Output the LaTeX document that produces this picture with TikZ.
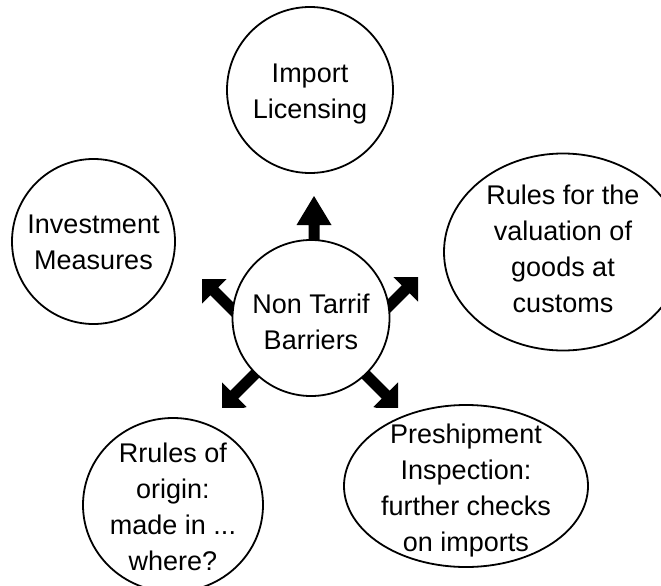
\documentclass[tikz,border=0pt]{standalone}
\usepackage{fontspec}
\setmainfont{Liberation Sans}
\usetikzlibrary{shapes.geometric}

\tikzset{
  bubble/.style={draw,ellipse,line width=1.8pt,fill=white,inner sep=0pt},
  bubbletext/.style={align=center,inner sep=0pt,font=\fontsize{27}{36}\selectfont},
}

\begin{document}
\begin{tikzpicture}[x=1pt,y=-1pt]
  \useasboundingbox (0,0) rectangle (661,586);
  % block arrows (tip x/y, angle, clip box)
  \foreach \tx/\ty/\ang/\xa/\ya/\xb/\yb in {314/196/0/280/190/350/260,
      193.8/270.8/45/202/279/311/360, 426.2/268.8/-45/300/277/418/360,
      213.8/415.2/135/222/280/311/407, 406.2/415.2/-135/311/280/398/407}{
    \begin{scope}
      \clip (\xa,\ya) rectangle (\xb,\yb);
      \fill[shift={(\tx,\ty)},rotate=\ang] (0,0) -- (17.5,29) -- (5.5,29) -- (5.5,70)
        -- (-5.5,70) -- (-5.5,29) -- (-17.5,29) -- cycle;
    \end{scope}
  }
  \node[bubble,minimum width=157pt,minimum height=156pt,
    label={[bubbletext,yshift=-4pt]center:{Non Tarrif\\Barriers}}] (ntb) at (311,318) {};
  \node[bubble,minimum width=166pt,minimum height=166pt,
    label={[bubbletext,yshift=-4pt]center:{Import\\Licensing}}] (imp) at (310,90) {};
  \node[bubble,minimum width=163pt,minimum height=165pt,
    label={[bubbletext,yshift=-1pt]center:{Investment\\Measures}}] (inv) at (93.5,241.5) {};
  \node[bubble,minimum width=238pt,minimum height=197pt,
    label={[bubbletext,yshift=3pt]center:{Rules for the\\valuation of\\goods at\\customs}}] (val) at (563,252) {};
  \node[bubble,minimum width=244pt,minimum height=162pt,
    label={[bubbletext,yshift=-5pt]center:{Preshipment\\Inspection:\\further checks\\on imports}}] (pre) at (466,486) {};
  \node[bubble,minimum width=180pt,minimum height=174pt,
    label={[bubbletext,yshift=-2pt]center:{Rrules of\\origin:\\made in ...\\where?}}] (ori) at (173,505) {};
\end{tikzpicture}
\end{document}
